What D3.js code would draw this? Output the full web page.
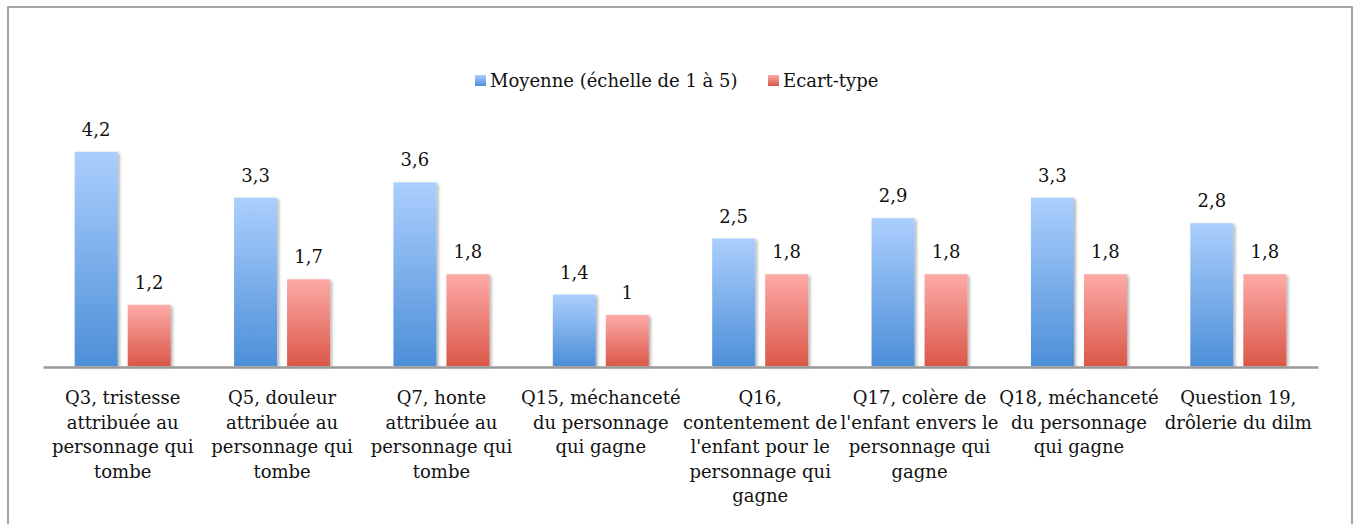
<!DOCTYPE html>
<html lang="fr">
<head>
<meta charset="utf-8">
<script src="https://cdn.jsdelivr.net/npm/d3@7/dist/d3.min.js"></script>
<style>
  html, body { margin: 0; padding: 0; background: #fff; }
  svg { display: block; }
  text { font-family: "DejaVu Serif", serif; fill: #111; }
</style>
</head>
<body>
<svg id="chart" width="1356" height="524"></svg>
<script>
// Question labels, one entry per line as wrapped under the axis
const categories = [
  ["Q3, tristesse", "attribuée au", "personnage qui", "tombe"],
  ["Q5, douleur", "attribuée au", "personnage qui", "tombe"],
  ["Q7, honte", "attribuée au", "personnage qui", "tombe"],
  ["Q15, méchanceté", "du personnage", "qui gagne"],
  ["Q16,", "contentement de", "l'enfant pour le", "personnage qui", "gagne"],
  ["Q17, colère de", "l'enfant envers le", "personnage qui", "gagne"],
  ["Q18, méchanceté", "du personnage", "qui gagne"],
  ["Question 19,", "drôlerie du dilm"]
];
const seriesNames = ["Moyenne (échelle de 1 à 5)", "Ecart-type"];
const moyenne = [4.2, 3.3, 3.6, 1.4, 2.5, 2.9, 3.3, 2.8];
const ecartType = [1.2, 1.7, 1.8, 1.0, 1.8, 1.8, 1.8, 1.8];

const svg = d3.select("#chart");
const defs = svg.append("defs");

// Vertical gradients for each series
const gradients = [
  { id: "gBlue", top: "#abcffd", bottom: "#4d8fd8" },
  { id: "gRed", top: "#fdaaa7", bottom: "#da5848" }
];
gradients.forEach(g => {
  const lg = defs.append("linearGradient").attr("id", g.id)
    .attr("x1", 0).attr("y1", 0).attr("x2", 0).attr("y2", 1);
  lg.append("stop").attr("offset", "0%").attr("stop-color", g.top);
  lg.append("stop").attr("offset", "100%").attr("stop-color", g.bottom);
});
const shadow = defs.append("filter").attr("id", "barShadow")
  .attr("x", "-20%").attr("y", "-10%").attr("width", "150%").attr("height", "130%");
shadow.append("feDropShadow").attr("dx", 2).attr("dy", 1.5)
  .attr("stdDeviation", 1.6).attr("flood-color", "#000").attr("flood-opacity", 0.3);

// Outer frame
svg.append("rect").attr("x", 8).attr("y", 7).attr("width", 1344).attr("height", 540)
  .attr("fill", "none").attr("stroke", "#a6a6a6").attr("stroke-width", 2);

const plot = { left: 43, right: 1318, baseline: 366 };

const x = d3.scaleBand().domain(d3.range(categories.length))
  .range([plot.left, plot.right]).paddingInner(0).paddingOuter(0);
const y = d3.scaleLinear().domain([0, 5]).range([plot.baseline, plot.baseline - 5 * 51]);

const barW = 43, gap = 10;
const series = [
  { values: moyenne, fill: "url(#gBlue)", offset: -gap / 2 - barW },
  { values: ecartType, fill: "url(#gRed)", offset: gap / 2 }
];

const fmt = v => d3.format(".1~f")(v).replace(".", ",");

series.forEach(s => {
  const g = svg.append("g");
  g.selectAll("rect").data(s.values).join("rect")
    .attr("x", (d, i) => x(i) + x.bandwidth() / 2 + s.offset)
    .attr("y", d => y(d))
    .attr("width", barW)
    .attr("height", d => y(0) - y(d))
    .attr("fill", s.fill)
    .attr("filter", "url(#barShadow)");
  g.selectAll("text").data(s.values).join("text")
    .attr("x", (d, i) => x(i) + x.bandwidth() / 2 + s.offset + barW / 2)
    .attr("y", d => y(d) - 16)
    .attr("text-anchor", "middle")
    .attr("font-size", 18)
    .text(d => fmt(d));
});

// Category axis line and wrapped labels
const xAxis = d3.axisBottom(x).tickSize(0).tickFormat("");
const axisG = svg.append("g").attr("transform", `translate(0,${plot.baseline + 1})`).call(xAxis);
axisG.select(".domain").attr("stroke", "#999").attr("stroke-width", 2.5);
axisG.selectAll(".tick").each(function (i) {
  const t = d3.select(this).append("text")
    .attr("text-anchor", "middle")
    .attr("font-size", 18)
    .attr("y", 37);
  categories[i].forEach((line, k) => {
    t.append("tspan").attr("x", 0).attr("dy", k === 0 ? 0 : 24.5).text(line);
  });
});

// Legend
const legend = svg.append("g").attr("transform", "translate(475,0)");
const legendItems = [
  { name: seriesNames[0], fill: "url(#gBlue)", x: 0 },
  { name: seriesNames[1], fill: "url(#gRed)", x: 293 }
];
legendItems.forEach(it => {
  legend.append("rect").attr("x", it.x).attr("y", 75).attr("width", 11).attr("height", 11)
    .attr("fill", it.fill);
  legend.append("text").attr("x", it.x + 15).attr("y", 87)
    .attr("font-size", 18).text(it.name);
});
</script>
</body>
</html>
